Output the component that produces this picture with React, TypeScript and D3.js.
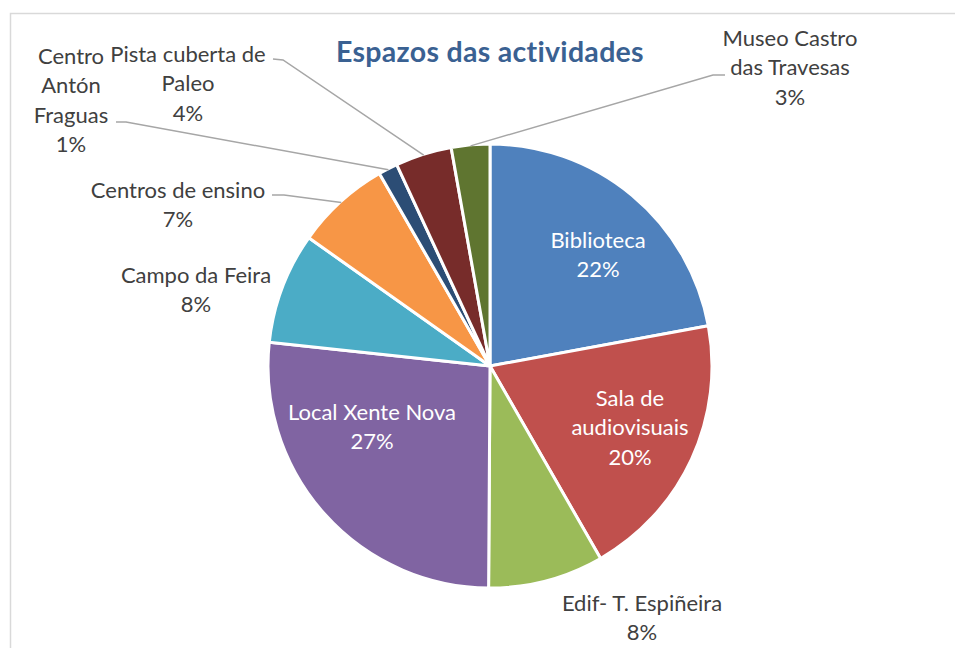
import { useRef, useEffect } from "react";
import * as d3 from "d3";

// Chart data
const categories = [
  "Biblioteca",
  "Sala de audiovisuais",
  "Edif- T. Espiñeira",
  "Local Xente Nova",
  "Campo da Feira",
  "Centros de ensino",
  "Centro Antón Fraguas",
  "Pista cuberta de Paleo",
  "Museo Castro das Travesas",
];
const values = [22.1, 19.6, 8.4, 26.6, 8.1, 6.9, 1.4, 4.1, 2.8];
const colors = [
  "#4F81BD", "#C0504D", "#9BBB59", "#8064A2", "#4BACC6",
  "#F79646", "#2C4D75", "#772C2A", "#5F7530",
];
const title = "Espazos das actividades";

// Label layout (how Excel placed them)
const labelLines = [
  ["Biblioteca"],
  ["Sala de", "audiovisuais"],
  ["Edif- T. Espiñeira"],
  ["Local Xente Nova"],
  ["Campo da Feira"],
  ["Centros de ensino"],
  ["Centro", "Antón", "Fraguas"],
  ["Pista cuberta de", "Paleo"],
  ["Museo Castro", "das Travesas"],
];
const labelPos = [
  { x: 598, y: 240, inside: true },
  { x: 630, y: 398, inside: true },
  { x: 642, y: 603 },
  { x: 372, y: 412, inside: true },
  { x: 196, y: 275 },
  { x: 178, y: 190 },
  { x: 71, y: 56 },
  { x: 188, y: 54 },
  { x: 790, y: 38 },
];
const leaders = [
  null, null, null, null, null,
  { sx: 272, sy: 195, ex: 284, ey: 195 },
  { sx: 116, sy: 122, ex: 126, ey: 122 },
  { sx: 273, sy: 59, ex: 283, ey: 60 },
  { sx: 725, sy: 75, ex: 713, ey: 75 },
];

const W = 955;
const H = 648;
const cx = 490;
const cy = 366;
const R = 222;
const lineH = 29.5;
const FONT = "Lato, 'DejaVu Sans', sans-serif";

const App = () => {
  const svgRef = useRef(null);

  useEffect(() => {
    const svg = d3.select(svgRef.current);
    svg.selectAll("*").remove();

    // Chart border
    svg.append("rect")
      .attr("x", 10.5)
      .attr("y", 13.5)
      .attr("width", W + 20)
      .attr("height", H + 20)
      .attr("fill", "#fff")
      .attr("stroke", "#D9D9D9")
      .attr("stroke-width", 1.5);

    // Title
    svg.append("text")
      .attr("x", cx)
      .attr("y", 62)
      .attr("text-anchor", "middle")
      .style("font-family", FONT)
      .style("font-weight", "bold")
      .style("font-size", "28.5px")
      .style("letter-spacing", "0.3px")
      .style("fill", "#3A6192")
      .text(title);

    const data = categories.map((c, i) => ({ name: c, value: values[i], i }));
    const total = d3.sum(values);

    const pie = d3.pie<any>()
      .sort(null)
      .value((d) => d.value)
      .startAngle(0)
      .endAngle(2 * Math.PI);
    const arcs = pie(data);

    const arc = d3.arc<any>().innerRadius(0).outerRadius(R);

    const g = svg.append("g").attr("transform", `translate(${cx},${cy})`);
    g.selectAll("path")
      .data(arcs)
      .join("path")
      .attr("d", arc)
      .attr("fill", (d) => colors[d.data.i])
      .attr("stroke", "#fff")
      .attr("stroke-width", 3)
      .attr("stroke-linejoin", "round");

    // Leader lines
    arcs.forEach((a) => {
      const ld = leaders[a.data.i];
      if (!ld) return;
      const mid = (a.startAngle + a.endAngle) / 2;
      const px = cx + Math.sin(mid) * (R - 1);
      const py = cy - Math.cos(mid) * (R - 1);
      svg.append("polyline")
        .attr("points", `${ld.sx},${ld.sy} ${ld.ex},${ld.ey} ${px},${py}`)
        .attr("fill", "none")
        .attr("stroke", "#A6A6A6")
        .attr("stroke-width", 1.5);
    });

    // Data labels
    arcs.forEach((a) => {
      const i = a.data.i;
      const pos = labelPos[i];
      const pct = Math.round((a.data.value / total) * 100) + "%";
      const lines = [...labelLines[i], pct];
      const t = svg.append("text")
        .attr("text-anchor", "middle")
        .style("font-family", FONT)
        .style("font-size", "22px")
        .style("fill", pos.inside ? "#fff" : "#404040");
      lines.forEach((l, k) => {
        t.append("tspan")
          .attr("x", pos.x)
          .attr("y", pos.y + k * lineH)
          .attr("dy", "0.35em")
          .text(l);
      });
    });
  }, []);

  return (
    <svg
      ref={svgRef}
      width={W}
      height={H}
      style={{ position: "absolute", left: 0, top: 0, overflow: "hidden", background: "#fff" }}
    ></svg>
  );
};

export default App;
